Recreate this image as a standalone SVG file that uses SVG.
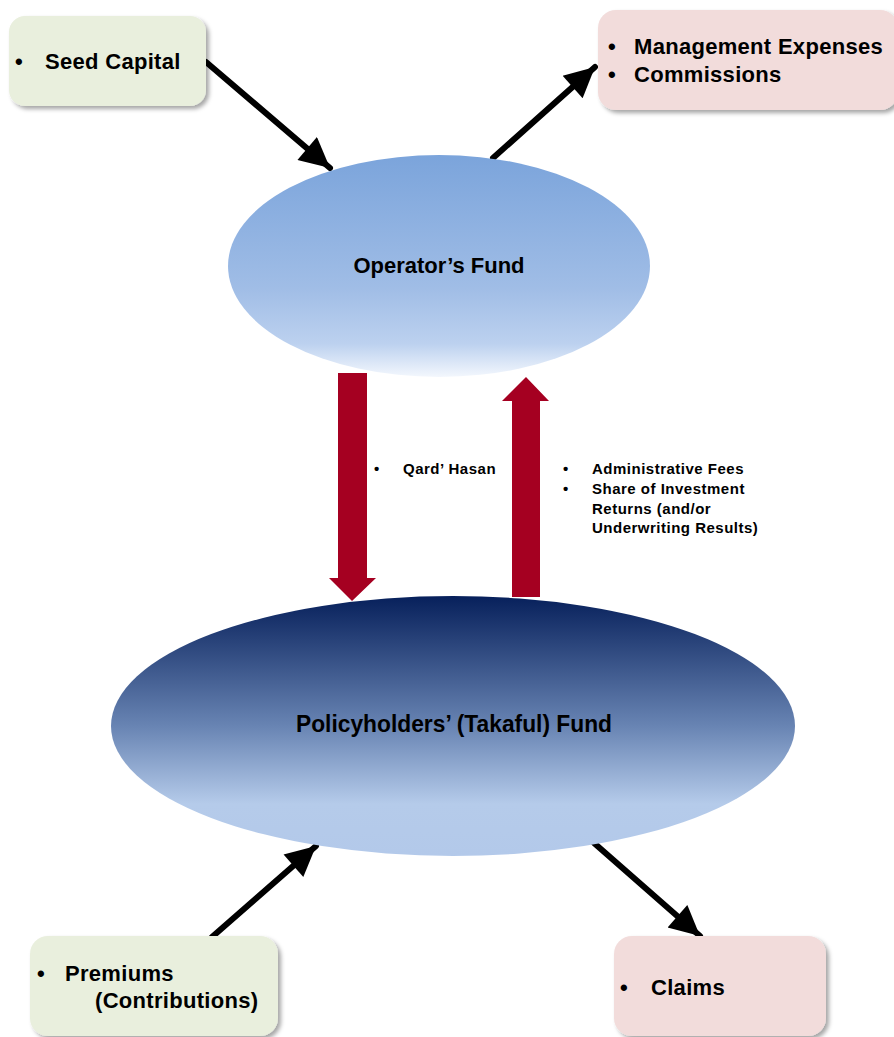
<svg xmlns="http://www.w3.org/2000/svg" width="894" height="1037" viewBox="0 0 894 1037">
<defs>
<style>
.t{font-family:"Liberation Sans",Arial,sans-serif;font-weight:bold;fill:#000}
.big{font-size:22px;letter-spacing:0.3px}
.small{font-size:15px;letter-spacing:0.5px}
.green{fill:#e9efdd}
.pink{fill:#f2dcdb}
.con{stroke:#000;stroke-width:6;fill:none;stroke-linecap:round}
.red{fill:#a50021}
</style>
<linearGradient id="gOp" x1="0" y1="0" x2="0" y2="1">
<stop offset="0" stop-color="#7ba4db"/>
<stop offset="0.6" stop-color="#a0bde6"/>
<stop offset="0.85" stop-color="#bcd1ef"/>
<stop offset="1" stop-color="#f3f7fd"/>
</linearGradient>
<linearGradient id="gPol" x1="0" y1="0" x2="0" y2="1">
<stop offset="0" stop-color="#07205b"/>
<stop offset="0.5" stop-color="#6884b3"/>
<stop offset="0.8" stop-color="#b5cbea"/>
<stop offset="1" stop-color="#b3c9ea"/>
</linearGradient>
<filter id="sh" x="-10%" y="-10%" width="130%" height="140%">
<feDropShadow dx="3" dy="3" stdDeviation="2" flood-color="#000" flood-opacity="0.35"/>
</filter>
<marker id="ah" viewBox="0 0 10 10" refX="10" refY="5" markerWidth="5.5" markerHeight="5" orient="auto" markerUnits="strokeWidth">
<path d="M0,0 L10,5 L0,10 z" fill="#000"/>
</marker>
</defs>
<rect width="894" height="1037" fill="#fff"/>

<g id="connectors">
<line class="con" x1="206" y1="62" x2="330" y2="168" marker-end="url(#ah)"/>
<line class="con" x1="493" y1="158" x2="595" y2="67" marker-end="url(#ah)"/>
<line class="con" x1="212" y1="937" x2="316" y2="846" marker-end="url(#ah)"/>
<line class="con" x1="594" y1="843" x2="700" y2="936" marker-end="url(#ah)"/>
<polygon class="red" points="338,373 367,373 367,578 376,578 352,601 329,578 338,578"/>
<polygon class="red" points="512,597 540,597 540,401 549,401 526,377 502,401 512,401"/>
</g>

<g id="seed-capital">
<rect class="green" x="9" y="16" width="197" height="90" rx="16" filter="url(#sh)"/>
<text class="t big" x="15" y="69">•</text>
<text class="t big" x="45" y="69">Seed Capital</text>
</g>

<g id="management">
<rect class="pink" x="598" y="10" width="300" height="100" rx="18" filter="url(#sh)"/>
<text class="t big" x="608" y="54">•</text>
<text class="t big" x="634" y="54">Management Expenses</text>
<text class="t big" x="608" y="82">•</text>
<text class="t big" x="634" y="82">Commissions</text>
</g>

<g id="operators-fund">
<ellipse cx="439" cy="266" rx="211" ry="111" fill="url(#gOp)"/>
<text class="t" font-size="22" x="439" y="273" text-anchor="middle">Operator’s Fund</text>
</g>

<g id="qard-hasan">
<text class="t small" x="374" y="474">•</text>
<text class="t small" x="403" y="474">Qard’ Hasan</text>
</g>

<g id="fees">
<text class="t small" x="563" y="474">•</text>
<text class="t small" x="592" y="474">Administrative Fees</text>
<text class="t small" x="563" y="494">•</text>
<text class="t small" x="592" y="494">Share of Investment</text>
<text class="t small" x="592" y="514">Returns (and/or</text>
<text class="t small" x="592" y="533">Underwriting Results)</text>
</g>

<g id="policyholders-fund">
<ellipse cx="453" cy="726" rx="342" ry="130" fill="url(#gPol)"/>
<text class="t" font-size="24" x="296" y="732" textLength="316" lengthAdjust="spacingAndGlyphs">Policyholders’ (Takaful) Fund</text>
</g>

<g id="premiums">
<rect class="green" x="30" y="936" width="248" height="100" rx="18" filter="url(#sh)"/>
<text class="t big" x="37" y="981">•</text>
<text class="t big" x="65" y="981">Premiums</text>
<text class="t big" x="95" y="1008">(Contributions)</text>
</g>

<g id="claims">
<rect class="pink" x="614" y="936" width="212" height="100" rx="18" filter="url(#sh)"/>
<text class="t big" x="620" y="995">•</text>
<text class="t big" x="651" y="995">Claims</text>
</g>
</svg>
